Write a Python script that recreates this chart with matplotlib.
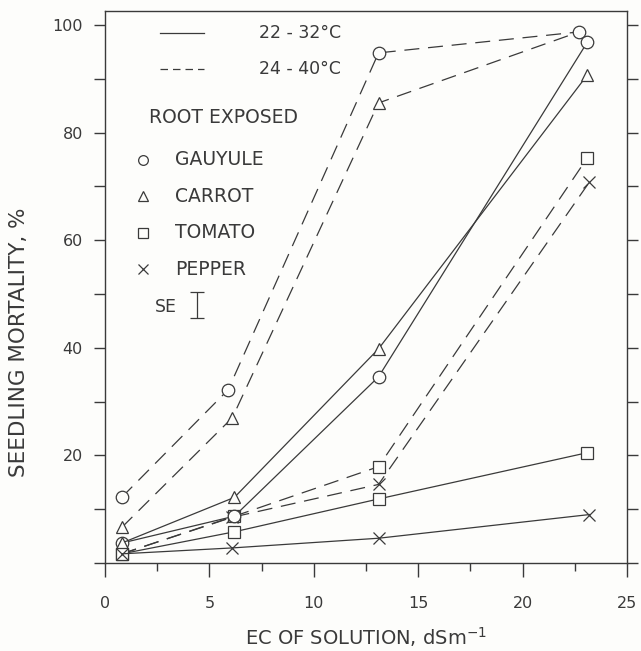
import matplotlib.pyplot as plt
import numpy as np
from matplotlib.ticker import MultipleLocator
from matplotlib.lines import Line2D

plt.rcParams['font.family'] = ['DejaVu Sans']

INK = "#3a3a3a"
PAPER = "#fdfdfb"

# EC of solution (dSm-1) and seedling mortality (%)
# solid = 22 - 32 C, dashed = 24 - 40 C
gauyule_x_hot = [0.8, 5.9, 13.1, 22.7]
gauyule_hot = [12.2, 32.2, 94.8, 98.7]
gauyule_x_cool = [0.8, 6.2, 13.1, 23.1]
gauyule_cool = [3.7, 8.7, 34.6, 96.8]

carrot_x_hot = [0.8, 6.1, 13.1, 22.7]
carrot_hot = [6.6, 27.0, 85.5, 98.7]
carrot_x_cool = [0.8, 6.2, 13.1, 23.1]
carrot_cool = [3.7, 12.2, 39.8, 90.7]

tomato_x = [0.8, 6.2, 13.1, 23.1]
tomato_hot = [1.7, 8.7, 17.9, 75.3]
tomato_cool = [1.7, 5.8, 11.9, 20.5]

pepper_x = [0.8, 6.1, 13.1, 23.2]
pepper_hot = [1.7, 8.5, 14.6, 70.8]
pepper_cool = [1.7, 2.8, 4.6, 9.0]

se_value = 4.9
se_pos = (4.4, 47.9)

fig = plt.figure(figsize=(6.41, 6.51), dpi=100)
fig.patch.set_facecolor(PAPER)
ax = fig.add_axes([0.1638, 0.1352, 0.8144, 0.848])
ax.set_facecolor(PAPER)

dash = (0, (12, 7))
mk = dict(markersize=9, markerfacecolor=PAPER, markeredgecolor=INK,
          markeredgewidth=0.9, color=INK, linewidth=0.9)

# the carrot dashed curve ends under the guayule circle at top right
ax.plot(carrot_x_hot, carrot_hot, marker="^", linestyle=dash, markevery=[0, 1, 2], **mk)
ax.plot(gauyule_x_hot, gauyule_hot, marker="o", linestyle=dash, **mk)
ax.plot(tomato_x, tomato_hot, marker="s", linestyle=dash, **mk)
ax.plot(pepper_x, pepper_hot, marker="x", linestyle=dash, **mk)

ax.plot(gauyule_x_cool, gauyule_cool, marker="o", linestyle="-", **mk)
ax.plot(carrot_x_cool, carrot_cool, marker="^", linestyle="-", **mk)
ax.plot(tomato_x, tomato_cool, marker="s", linestyle="-", **mk)
ax.plot(pepper_x, pepper_cool, marker="x", linestyle="-", **mk)

ax.set_xlim(0, 25)
ax.set_ylim(0, 102.6)
ax.xaxis.set_major_locator(MultipleLocator(5))
ax.xaxis.set_minor_locator(MultipleLocator(2.5))
ax.yaxis.set_minor_locator(MultipleLocator(10))
ax.set_yticks([20, 40, 60, 80, 100])

ax.tick_params(which="both", direction="out", color=INK, width=1.0,
               right=True, top=False, labelcolor=INK, labelsize=11.5)
ax.tick_params(axis="x", which="major", length=10, pad=14)
ax.tick_params(axis="x", which="minor", length=6)
ax.tick_params(axis="y", which="both", length=8, pad=8)
for s in ax.spines.values():
    s.set_color(INK)
    s.set_linewidth(1.0)

ax.set_xlabel("EC OF SOLUTION, dSm$^{-1}$", fontsize=14, color=INK, labelpad=10)
ax.set_ylabel("SEEDLING MORTALITY, %", fontsize=15.5, color=INK)
ax.yaxis.set_label_coords(-0.145, 0.40)

# legend block, drawn in axes fraction
tr = ax.transAxes
ax.add_line(Line2D([0.105, 0.19], [0.96, 0.96], transform=tr, color=INK, lw=0.9))
ax.add_line(Line2D([0.105, 0.19], [0.895, 0.895], transform=tr, color=INK, lw=0.9,
                   linestyle=(0, (6, 4))))
ax.text(0.295, 0.96, "22 - 32°C", transform=tr, va="center", fontsize=12.5, color=INK)
ax.text(0.295, 0.895, "24 - 40°C", transform=tr, va="center", fontsize=12.5, color=INK)
ax.text(0.085, 0.807, "ROOT EXPOSED", transform=tr, va="center", fontsize=13.5, color=INK)

entries = [("o", "GAUYULE"), ("^", "CARROT"), ("s", "TOMATO"), ("x", "PEPPER")]
for i, (m, name) in enumerate(entries):
    yy = 0.73 - i * 0.066
    ax.plot([0.072], [yy], transform=tr, marker=m, markersize=7,
            markerfacecolor="none", markeredgecolor=INK, markeredgewidth=0.9)
    ax.text(0.135, yy, name, transform=tr, va="center", fontsize=13.5, color=INK)

ax.text(0.095, 0.464, "SE", transform=tr, va="center", fontsize=12.5, color=INK)
ax.errorbar([se_pos[0]], [se_pos[1]], yerr=[se_value / 2], color=INK, capsize=5,
            elinewidth=0.9, capthick=0.9)

fig.savefig("out.png", dpi=100, facecolor=fig.get_facecolor())
